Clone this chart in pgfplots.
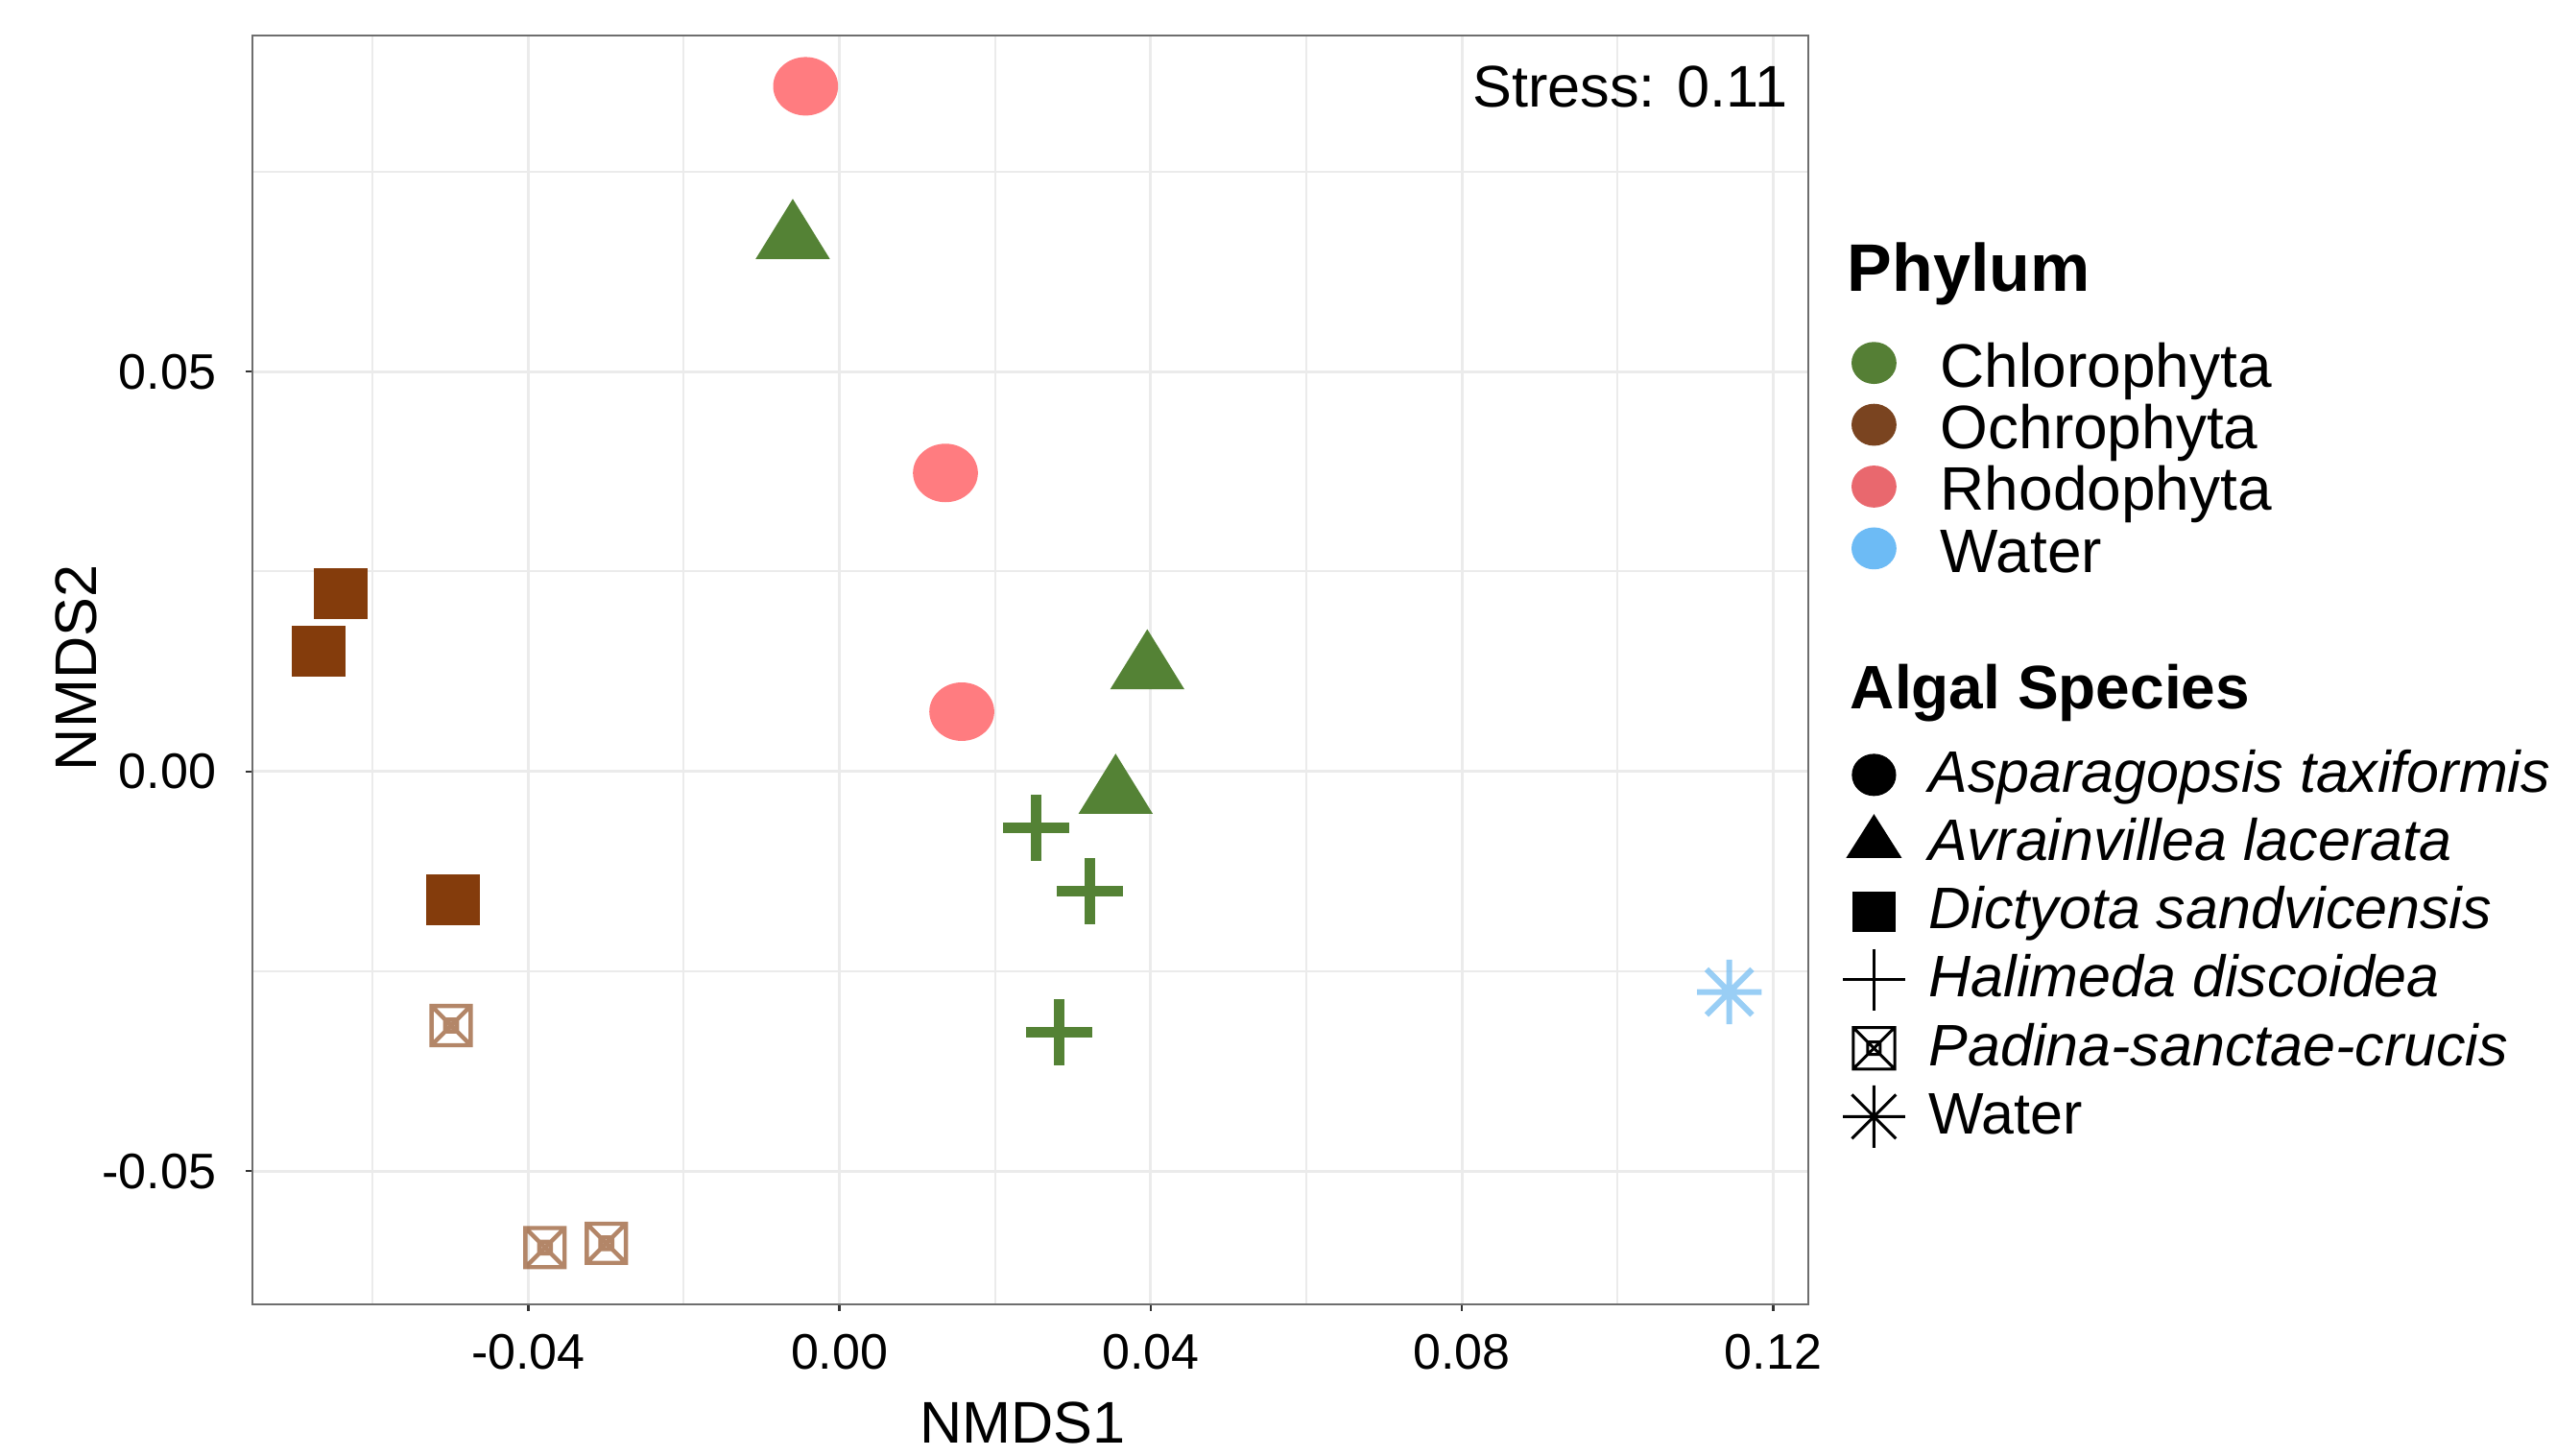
\documentclass[border=0pt]{standalone}
\usepackage{fontspec}
\setmainfont{Liberation Sans}
\usepackage{pgfplots}
\pgfplotsset{compat=1.18}
\usetikzlibrary{plotmarks}

\definecolor{chloro}{HTML}{548235}
\definecolor{ochro}{HTML}{843C0C}
\definecolor{rhodo}{HTML}{FF7C80}
\definecolor{water}{HTML}{7FC2F3}
\definecolor{chloroL}{HTML}{557F35}
\definecolor{ochroL}{HTML}{7A4420}
\definecolor{rhodoL}{HTML}{E9686E}
\definecolor{waterL}{HTML}{6DBBF5}
\definecolor{gridgrey}{HTML}{EBEBEB}
\definecolor{framegrey}{HTML}{6E6E6E}
\definecolor{tickgrey}{HTML}{333333}

\pgfdeclareplotmark{tri}{%
  \pgfpathmoveto{\pgfqpointpolar{90}{\pgfplotmarksize}}%
  \pgfpathlineto{\pgfqpointpolar{210}{\pgfplotmarksize}}%
  \pgfpathlineto{\pgfqpointpolar{330}{\pgfplotmarksize}}%
  \pgfpathclose
  \pgfusepathqfill}
\pgfdeclareplotmark{dot}{%
  \pgfpathcircle{\pgfpointorigin}{\pgfplotmarksize}%
  \pgfusepathqfill}
\pgfdeclareplotmark{sqf}{%
  \pgfpathrectangle{\pgfqpoint{-\pgfplotmarksize}{-\pgfplotmarksize}}{\pgfqpoint{2\pgfplotmarksize}{2\pgfplotmarksize}}%
  \pgfusepathqfill}
\pgfdeclareplotmark{sqx}{%
  \pgfpathrectangle{\pgfqpoint{-\pgfplotmarksize}{-\pgfplotmarksize}}{\pgfqpoint{2\pgfplotmarksize}{2\pgfplotmarksize}}%
  \pgfpathrectangle{\pgfqpoint{-0.3\pgfplotmarksize}{-0.3\pgfplotmarksize}}{\pgfqpoint{0.6\pgfplotmarksize}{0.6\pgfplotmarksize}}%
  \pgfpathmoveto{\pgfqpoint{-\pgfplotmarksize}{-\pgfplotmarksize}}\pgfpathlineto{\pgfqpoint{\pgfplotmarksize}{\pgfplotmarksize}}%
  \pgfpathmoveto{\pgfqpoint{-\pgfplotmarksize}{\pgfplotmarksize}}\pgfpathlineto{\pgfqpoint{\pgfplotmarksize}{-\pgfplotmarksize}}%
  \pgfusepathqstroke}
\pgfdeclareplotmark{star8}{%
  \pgfpathmoveto{\pgfqpoint{0pt}{\pgfplotmarksize}}\pgfpathlineto{\pgfqpoint{0pt}{-\pgfplotmarksize}}%
  \pgfpathmoveto{\pgfqpoint{\pgfplotmarksize}{0pt}}\pgfpathlineto{\pgfqpoint{-\pgfplotmarksize}{0pt}}%
  \pgfpathmoveto{\pgfqpoint{0.7071\pgfplotmarksize}{0.7071\pgfplotmarksize}}\pgfpathlineto{\pgfqpoint{-0.7071\pgfplotmarksize}{-0.7071\pgfplotmarksize}}%
  \pgfpathmoveto{\pgfqpoint{-0.7071\pgfplotmarksize}{0.7071\pgfplotmarksize}}\pgfpathlineto{\pgfqpoint{0.7071\pgfplotmarksize}{-0.7071\pgfplotmarksize}}%
  \pgfusepathqstroke}

\begin{document}
\begin{tikzpicture}
\useasboundingbox (0,0) rectangle (665.75pt,379.25pt);
\begin{axis}[
  at={(65.75pt,39.5pt)}, anchor=south west,
  scale only axis, width=405.25pt, height=330.5pt,
  xmin=-0.07544, xmax=0.12451, ymin=-0.06667, ymax=0.09206,
  xtick={-0.04,0,0.04,0.08,0.12}, xticklabels={-0.04,0.00,0.04,0.08,0.12},
  ytick={-0.05,0,0.05}, yticklabels={-0.05,0.00,0.05},
  minor xtick={-0.06,-0.02,0.02,0.06,0.10},
  minor ytick={-0.025,0.025,0.075},
  grid=both,
  major grid style={draw=gridgrey, line width=0.7pt},
  minor grid style={draw=gridgrey, line width=0.5pt},
  tick align=outside, tick pos=left,
  major tick length=1.75pt, minor tick length=0pt,
  every tick/.style={draw=tickgrey, line width=0.6pt},
  axis line style={draw=framegrey, line width=0.6pt},
  ticklabel style={font=\fontsize{13pt}{13pt}\selectfont},
  xticklabel style={anchor=north, inner sep=0pt},
  yticklabel style={anchor=east, inner sep=0pt},
  xticklabel shift=5.85pt, yticklabel shift=7.5pt,
  xlabel={NMDS1}, ylabel={NMDS2},
  every axis x label/.style={at={(axis description cs:0.495,-0.10968)}, anchor=base, font=\fontsize{15.3pt}{15.3pt}\selectfont},
  every axis y label/.style={at={(axis description cs:-0.1003,0.5015)}, rotate=90, anchor=base, font=\fontsize{15.3pt}{15.3pt}\selectfont},
  clip=false,
  legend image code/.code={\path[draw=none, fill=none] (-8.5pt,-5pt) rectangle (8.5pt,5pt); \draw[#1] plot coordinates {(0pt,0pt)};},
  legend cell align=left,
  legend style={at={(1.02122,0.44327)}, anchor=north west, draw=none, fill=none,
    inner sep=0pt, outer sep=0pt, row sep=0.6pt, column sep=5.8pt,
    nodes={inner sep=0pt, outer sep=0pt, text height=13.1pt, text depth=4.1pt},
    font=\fontsize{15.25pt}{15.25pt}\selectfont},
]
% Asparagopsis taxiformis (Rhodophyta)
\addplot[only marks, color=rhodo, mark=dot, mark size=7.62pt, mark options={fill=rhodo, draw=rhodo, xscale=1.11}, forget plot]
  coordinates {(-0.00435,0.0857) (0.01362,0.03733) (0.01572,0.00747)};
% Avrainvillea lacerata (Chlorophyta)
\addplot[only marks, color=chloro, mark=tri, mark size=10.45pt, mark options={fill=chloro, draw=chloro, xscale=1.07}, forget plot]
  coordinates {(-0.0060,0.0666) (0.03956,0.01277) (0.03549,-0.0028)};
% Dictyota sandvicensis (Ochrophyta)
\addplot[only marks, color=ochro, mark=sqf, mark size=6.66pt, mark options={fill=ochro, draw=ochro, xscale=1.05}, forget plot]
  coordinates {(-0.06409,0.02224) (-0.06693,0.01501) (-0.04968,-0.01603)};
% Halimeda discoidea (Chlorophyta)
\addplot[only marks, color=chloro, mark=+, mark size=8.62pt, mark options={draw=chloro, line width=2.75pt}, forget plot]
  coordinates {(0.02525,-0.00706) (0.03216,-0.01504) (0.02821,-0.03261)};
% Padina-sanctae-crucis (Ochrophyta)
\addplot[only marks, color=ochro, mark=sqx, mark size=5.1pt, mark options={draw=ochro, draw opacity=0.62, line width=1.1pt}, forget plot]
  coordinates {(-0.04991,-0.0318) (-0.03784,-0.05957) (-0.02996,-0.05903)};
% Water
\addplot[only marks, color=water, mark=star8, mark size=8.4pt, mark options={draw=water, draw opacity=0.8, line width=1.5pt}, forget plot]
  coordinates {(0.11436,-0.0276)};

\addlegendimage{only marks, black, mark=dot, mark size=5.5pt, mark options={fill=black, draw=black, xscale=1.05}}
\addlegendentry{\textit{Asparagopsis taxiformis}}
\addlegendimage{only marks, black, mark=tri, mark size=7.6pt, mark options={fill=black, draw=black, xscale=1.1}}
\addlegendentry{\textit{Avrainvillea lacerata}}
\addlegendimage{only marks, black, mark=sqf, mark size=5.25pt, mark options={fill=black, draw=black, xscale=1.07}}
\addlegendentry{\textit{Dictyota sandvicensis}}
\addlegendimage{only marks, black, mark=+, mark size=8.1pt, mark options={draw=black, line width=0.75pt}}
\addlegendentry{\textit{Halimeda discoidea}}
\addlegendimage{only marks, black, mark=sqx, mark size=5.4pt, mark options={draw=black, line width=0.75pt}}
\addlegendentry{\textit{Padina-sanctae-crucis}}
\addlegendimage{only marks, black, mark=star8, mark size=8.1pt, mark options={draw=black, line width=0.75pt}}
\addlegendentry{Water}

\node[anchor=base east, inner sep=0pt, font=\fontsize{15.3pt}{15.3pt}\selectfont] at (axis description cs:0.98705,0.94343) {Stress: 0.11};
\node[anchor=base west, inner sep=0pt, font=\fontsize{17.5pt}{17.5pt}\selectfont\bfseries] at (axis description cs:1.02468,0.79803) {Phylum};
\node[anchor=base west, inner sep=0pt, font=\fontsize{16pt}{16pt}\selectfont\bfseries] at (axis description cs:1.02653,0.46929) {Algal Species};
\end{axis}

\begin{axis}[
  at={(65.75pt,39.5pt)}, anchor=south west,
  scale only axis, width=405.25pt, height=330.5pt,
  hide axis, xmin=0, xmax=1, ymin=0, ymax=1,
  xtick=\empty, ytick=\empty,
  legend image code/.code={\path[draw=none, fill=none] (-8.5pt,-5pt) rectangle (8.5pt,5pt); \draw[#1] plot coordinates {(0pt,0pt)};},
  legend cell align=left,
  legend style={at={(1.02122,0.76082)}, anchor=north west, draw=none, fill=none,
    inner sep=0pt, outer sep=0pt, row sep=3.6pt, column sep=8.8pt,
    nodes={inner sep=0pt, outer sep=0pt, text height=12.5pt, text depth=0pt},
    font=\fontsize{16pt}{16pt}\selectfont},
]
\addlegendimage{only marks, chloroL, mark=dot, mark size=5.47pt, mark options={fill=chloroL, draw=chloroL, xscale=1.07}}
\addlegendentry{Chlorophyta}
\addlegendimage{only marks, ochroL, mark=dot, mark size=5.47pt, mark options={fill=ochroL, draw=ochroL, xscale=1.07}}
\addlegendentry{Ochrophyta}
\addlegendimage{only marks, rhodoL, mark=dot, mark size=5.47pt, mark options={fill=rhodoL, draw=rhodoL, xscale=1.07}}
\addlegendentry{Rhodophyta}
\addlegendimage{only marks, waterL, mark=dot, mark size=5.47pt, mark options={fill=waterL, draw=waterL, xscale=1.07}}
\addlegendentry{Water}
\end{axis}
\end{tikzpicture}
\end{document}
